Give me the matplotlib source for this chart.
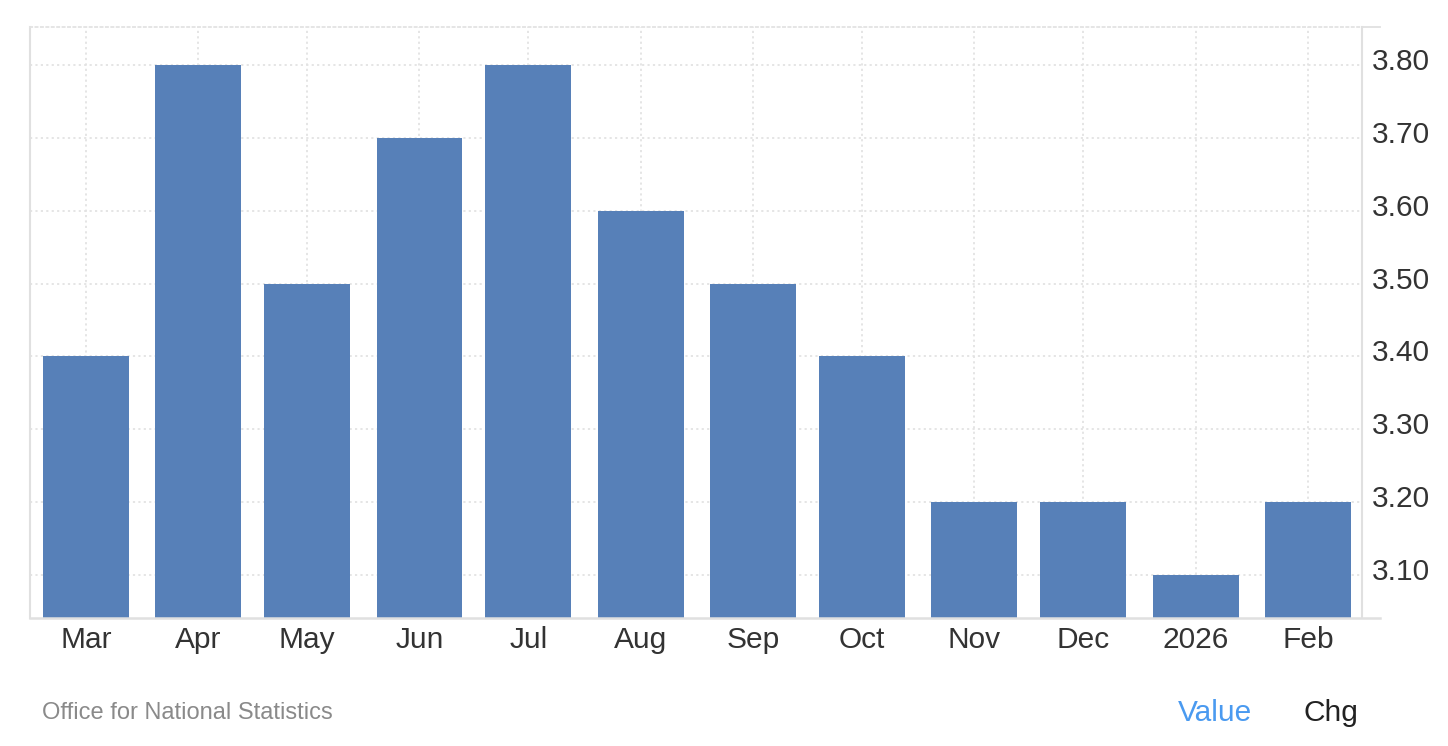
import datetime as dt
import matplotlib
matplotlib.use("Agg")
import matplotlib.pyplot as plt
import matplotlib.transforms as mtransforms
from matplotlib.lines import Line2D

plt.rcParams['font.family'] = ['Liberation Sans', 'DejaVu Sans']

# data
months = [dt.datetime(2025, m, 1) for m in range(3, 13)] + [dt.datetime(2026, 1, 1), dt.datetime(2026, 2, 1)]
tick_labels = ["Mar", "Apr", "May", "Jun", "Jul", "Aug", "Sep", "Oct", "Nov", "Dec", "2026", "Feb"]
values = [3.40, 3.80, 3.50, 3.70, 3.80, 3.60, 3.50, 3.40, 3.20, 3.20, 3.10, 3.20]
y_ticks = [3.10, 3.20, 3.30, 3.40, 3.50, 3.60, 3.70, 3.80]

bar_color = "#5780b8"
grid_color = "#e3e3e3"
spine_color = "#e0e0e0"

fig = plt.figure(figsize=(14.48, 7.46), dpi=100)
W, H = 1448, 746
ax = fig.add_axes([30 / W, (H - 618) / H, (1362 - 30) / W, (618 - 27) / H])

ax.bar(months, values, width=23.7, color=bar_color, zorder=2)

ax.set_xlim(months[0] - dt.timedelta(days=15.4), months[-1] + dt.timedelta(days=14.9))
ax.set_ylim(3.041, 3.852)

ax.set_xticks(months)
ax.set_xticklabels(tick_labels)
ax.set_yticks(y_ticks)
ax.set_yticklabels([f"{v:.2f}" for v in y_ticks])
ax.yaxis.tick_right()

ax.tick_params(axis='x', length=0, pad=6, labelsize=21.5, labelcolor="#333333")
ax.tick_params(axis='y', length=0, pad=7, labelsize=21.5, labelcolor="#333333")

# y labels sit a little above their grid lines
shift = mtransforms.ScaledTranslation(0, 6 / 100, fig.dpi_scale_trans)
for lbl in ax.get_yticklabels():
    lbl.set_transform(lbl.get_transform() + shift)

ax.grid(True, color=grid_color, linestyle=(0, (1.2, 1.8)), linewidth=1.3, zorder=0)
ax.set_axisbelow(True)

for side in ["left", "right"]:
    ax.spines[side].set_color(spine_color)
    ax.spines[side].set_linewidth(1.5)
ax.spines["bottom"].set_visible(False)
ax.spines["top"].set_color(grid_color)
ax.spines["top"].set_linestyle((0, (1.2, 1.8)))
ax.spines["top"].set_linewidth(1.3)

# bottom axis line extends past the right spine, plus a short tick at the top
ext = (1380 - 30) / (1362 - 30)
ax.add_line(Line2D([0, ext], [0, 0], transform=ax.transAxes, color=spine_color,
                   linewidth=1.8, clip_on=False, zorder=3))
ax.add_line(Line2D([1, ext], [1, 1], transform=ax.transAxes, color=spine_color,
                   linewidth=1.3, clip_on=False, zorder=3))

fig.text(42 / W, 1 - 713 / H, "Office for National Statistics", color="#8a8a8a",
         fontsize=17, va="center", ha="left")
fig.text(1178 / W, 1 - 713 / H, "Value", color="#4a9af0", fontsize=21.5,
         va="center", ha="left")
fig.text(1358 / W, 1 - 713 / H, "Chg", color="#222222", fontsize=21.5,
         va="center", ha="right")

fig.savefig("out.png", dpi=100)
